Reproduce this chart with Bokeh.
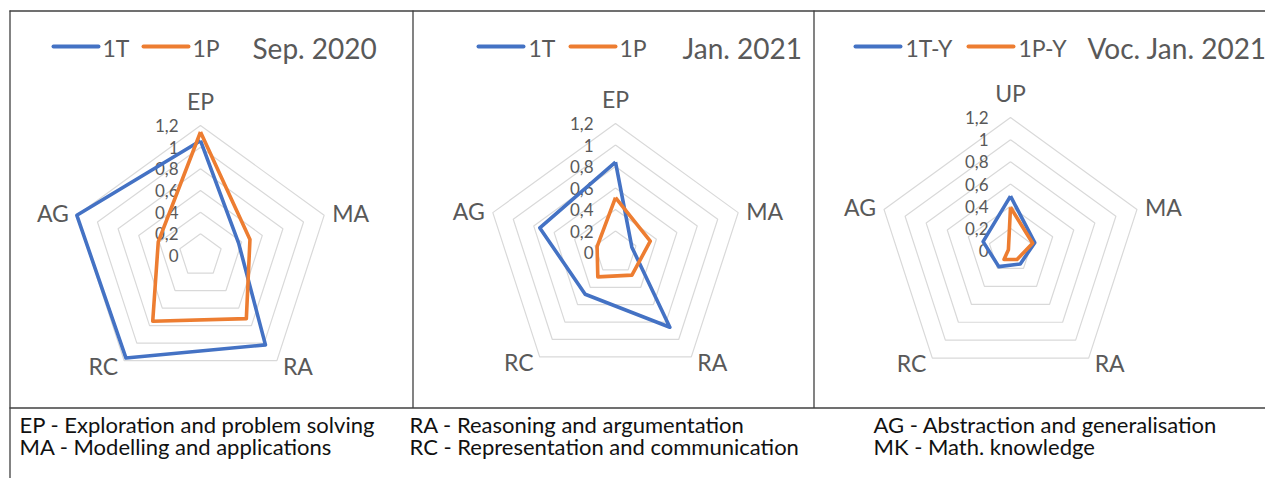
import numpy as np
from bokeh.plotting import figure
from bokeh.models import Range1d
from bokeh.core.properties import value
from bokeh.embed import file_html
from bokeh.resources import INLINE

# ---------------- data ----------------
cats_math = ["EP", "MA", "RA", "RC", "AG"]
cats_voc = ["UP", "MA", "RA", "RC", "AG"]
sep_1T = [1.06, 0.37, 1.02, 1.17, 1.20]
sep_1P = [1.14, 0.48, 0.72, 0.75, 0.41]
jan_1T = [0.84, 0.16, 0.86, 0.48, 0.74]
jan_1P = [0.51, 0.34, 0.26, 0.28, 0.18]
voc_1TY = [0.49, 0.23, 0.15, 0.18, 0.26]
voc_1PY = [0.39, 0.21, 0.10, 0.10, 0.02]
tick_values = [0, 0.2, 0.4, 0.6, 0.8, 1.0, 1.2]
tick_labels = ["0", "0,2", "0,4", "0,6", "0,8", "1", "1,2"]
titles = ["Sep. 2020", "Jan. 2021", "Voc. Jan. 2021"]
series_names = [["1T", "1P"], ["1T", "1P"], ["1T-Y", "1P-Y"]]
footnotes_col1 = ["EP - Exploration and problem solving", "MA - Modelling and applications"]
footnotes_col2 = ["RA - Reasoning and argumentation", "RC - Representation and communication"]
footnotes_col3 = ["AG - Abstraction and generalisation", "MK - Math. knowledge"]

# ---------------- style / layout ----------------
BLUE = "#4472C4"
ORANGE = "#ED7D31"
GREY_TXT = "#595959"
GRID = "#d9d9d9"
BORDER = "#404040"
FONT = "Lato"
VMAX = 1.2

panels = [
    dict(cx=200, cy=255, R=130, cats=cats_math, series=[sep_1T, sep_1P],
         leg=[53, 102, 143, 192], title_x=252),
    dict(cx=615, cy=252, R=129, cats=cats_math, series=[jan_1T, jan_1P],
         leg=[478, 528, 570, 619], title_x=682),
    dict(cx=1010, cy=250, R=133, cats=cats_voc, series=[voc_1TY, voc_1PY],
         leg=[855, 905, 968, 1018], title_x=1087),
]

W, H = 1265, 478
p = figure(width=W, height=H, x_range=Range1d(0, W), y_range=Range1d(H, 0),
           output_backend="svg", toolbar_location=None, min_border=0)
p.axis.visible = False
p.grid.visible = False
p.outline_line_color = None
p.background_fill_color = "white"
p.border_fill_color = "white"

# table borders
p.segment(x0=[9.5, 9, 9, 412.5, 813.5], y0=[10, 10.5, 407.5, 10, 10],
          x1=[9.5, 1265, 1265, 412.5, 813.5], y1=[478, 10.5, 407.5, 407.5, 407.5],
          line_color=BORDER, line_width=1.3)

angles = np.deg2rad(90 - 72 * np.arange(5))


def to_xy(pn, vals):
    s = pn["R"] / VMAX
    v = np.asarray(vals, dtype=float)
    return pn["cx"] + v * s * np.cos(angles), pn["cy"] - v * s * np.sin(angles)


for i, pn in enumerate(panels):
    cx, cy, R = pn["cx"], pn["cy"], pn["R"]
    # grid rings
    xs, ys = [], []
    for tv in tick_values[1:]:
        x, y = to_xy(pn, [tv] * 5)
        xs.append(list(x) + [x[0]])
        ys.append(list(y) + [y[0]])
    p.multi_line(xs, ys, line_color=GRID, line_width=1.2)

    # tick labels
    ty = [cy - tv * R / VMAX for tv in tick_values]
    p.text(x=[cx - 22] * len(tick_values), y=ty, text=tick_labels,
           text_font=value(FONT), text_font_size="17px", text_color=GREY_TXT,
           text_align="right", text_baseline="middle")

    # series
    for vals, col in zip(pn["series"], [BLUE, ORANGE]):
        x, y = to_xy(pn, vals)
        p.line(list(x) + [x[0]], list(y) + [y[0]], line_color=col, line_width=3.6,
               line_join="round")

    # category labels
    vx, vy = to_xy(pn, [VMAX] * 5)
    cats = pn["cats"]
    lx = [cx, vx[1] + 8, vx[2] + 6, vx[3] - 6, vx[4] - 8]
    ly = [cy - R - 25, vy[1] - 2, vy[2] + 5, vy[3] + 5, vy[4] - 2]
    al = ["center", "left", "left", "right", "right"]
    for k in range(5):
        p.text(x=[lx[k]], y=[ly[k]], text=[cats[k]], text_font=value(FONT),
               text_font_size="23px", text_color=GREY_TXT, text_align=al[k],
               text_baseline="middle")

    # legend + title
    L = pn["leg"]
    p.segment(x0=[L[0], L[2]], y0=[46, 46], x1=[L[0] + 45, L[2] + 45], y1=[46, 46],
              line_color=[BLUE, ORANGE], line_width=4, line_cap="round")
    p.text(x=[L[1], L[3]], y=[47, 47], text=series_names[i], text_font=value(FONT),
           text_font_size="23px", text_color=GREY_TXT, text_align="left",
           text_baseline="middle")
    p.text(x=[pn["title_x"]], y=[47], text=[titles[i]], text_font=value(FONT),
           text_font_size="28px", text_color=GREY_TXT, text_align="left",
           text_baseline="middle")

# footnotes
for col_x, lines in zip([19, 409, 873], [footnotes_col1, footnotes_col2, footnotes_col3]):
    p.text(x=[col_x, col_x], y=[424, 446], text=lines, text_font=value(FONT),
           text_font_size="22px", text_color="#111111", text_align="left",
           text_baseline="middle")

open("out.html", "w").write(file_html(p, INLINE))
